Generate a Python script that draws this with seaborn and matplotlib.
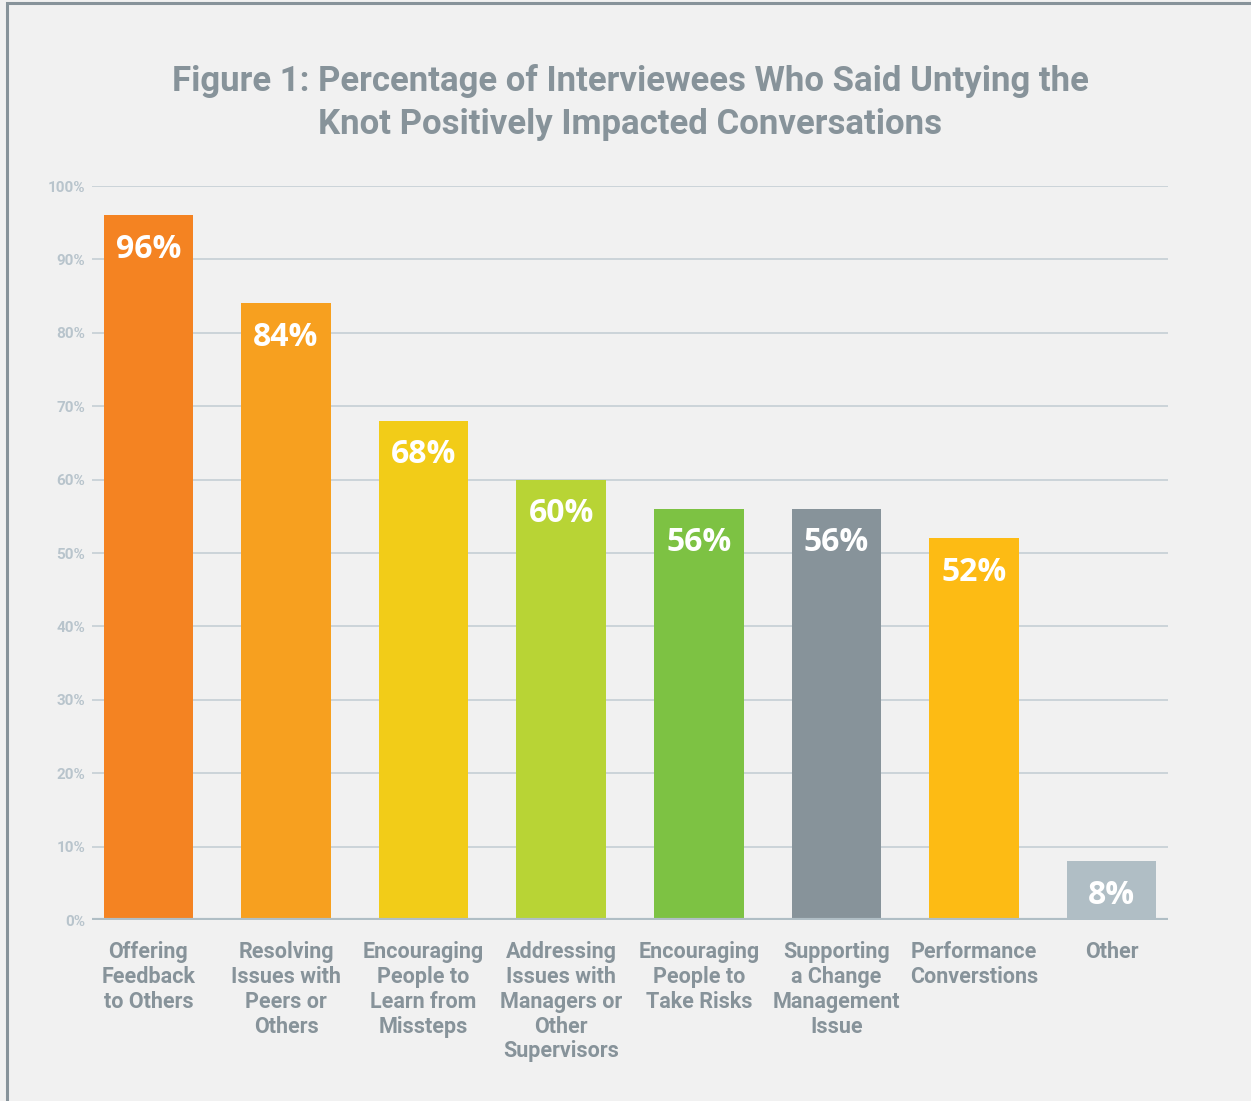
import matplotlib
matplotlib.use("Agg")
import matplotlib.pyplot as plt
import seaborn as sns
import pandas as pd
from matplotlib.patches import Rectangle

# chart data
categories = [
    "Offering\nFeedback\nto Others",
    "Resolving\nIssues with\nPeers or\nOthers",
    "Encouraging\nPeople to\nLearn from\nMissteps",
    "Addressing\nIssues with\nManagers or\nOther\nSupervisors",
    "Encouraging\nPeople to\nTake Risks",
    "Supporting\na Change\nManagement\nIssue",
    "Performance\nConverstions",
    "Other",
]
values = [96, 84, 68, 60, 56, 56, 52, 8]
bar_colors = ["#F48322", "#F7A01F", "#F2CC18", "#B8D435",
              "#7DC243", "#87939A", "#FDBB14", "#B0BEC5"]
y_ticks = [0, 10, 20, 30, 40, 50, 60, 70, 80, 90, 100]
title = ("Figure 1: Percentage of Interviewees Who Said Untying the\n"
         "Knot Positively Impacted Conversations")

df = pd.DataFrame({"category": categories, "value": values})

sns.set_style("white")
plt.rcParams["font.family"] = ["Roboto", "DejaVu Sans"]

bg = "#F1F1F1"
fig = plt.figure(figsize=(12.51, 11.01), dpi=100, facecolor=bg)
# frame around the chart
fig.patches.append(Rectangle((7 / 1251, -0.05), 1.2, 1 - 3 / 1101 + 0.05,
                             transform=fig.transFigure, fill=False,
                             edgecolor="#87939A", linewidth=2.2))

ax = fig.add_axes([92 / 1251, 1 - 920 / 1101, (1168 - 92) / 1251, (920 - 186) / 1101])
ax.set_facecolor(bg)

sns.barplot(data=df, x="category", y="value", hue="category",
            palette=bar_colors, legend=False, width=0.65, saturation=1,
            linewidth=0, ax=ax, zorder=3)

ax.set_ylim(0, 100)
ax.set_xlim(-0.41, len(categories) - 0.59)
ax.set_yticks(y_ticks)
ax.set_yticklabels([f"{t}%" for t in y_ticks])
for t in y_ticks[1:]:
    ax.axhline(t, color="#C9D1D7", linewidth=1.3, zorder=1)
ax.axhline(0, color="#B0BEC5", linewidth=3, zorder=4)

for s in ax.spines.values():
    s.set_visible(False)
ax.tick_params(axis="both", length=0)
ax.tick_params(axis="y", pad=5, labelsize=11, labelcolor="#B8C4CC")
ax.tick_params(axis="x", pad=15, labelsize=15.5, labelcolor="#87939A")
for lbl in ax.get_yticklabels():
    lbl.set_fontweight("bold")
for lbl in ax.get_xticklabels():
    lbl.set_fontweight("bold")
    lbl.set_linespacing(1.17)
    lbl.set_verticalalignment("top")
ax.set_xlabel("")
ax.set_ylabel("")

# value labels inside the bars
for i, v in enumerate(values):
    ax.annotate(f"{v}%", xy=(i, v), xytext=(0, -12.5), textcoords="offset points",
                ha="center", va="top", color="white", fontsize=23,
                fontweight="bold", family=["Open Sans", "DejaVu Sans"], zorder=5)

fig.text(630 / 1251, 1 - 64 / 1101, title, ha="center", va="top",
         fontsize=25, fontweight="bold", color="#87939A", linespacing=1.38)

fig.savefig("out.png", dpi=100, facecolor=bg)
